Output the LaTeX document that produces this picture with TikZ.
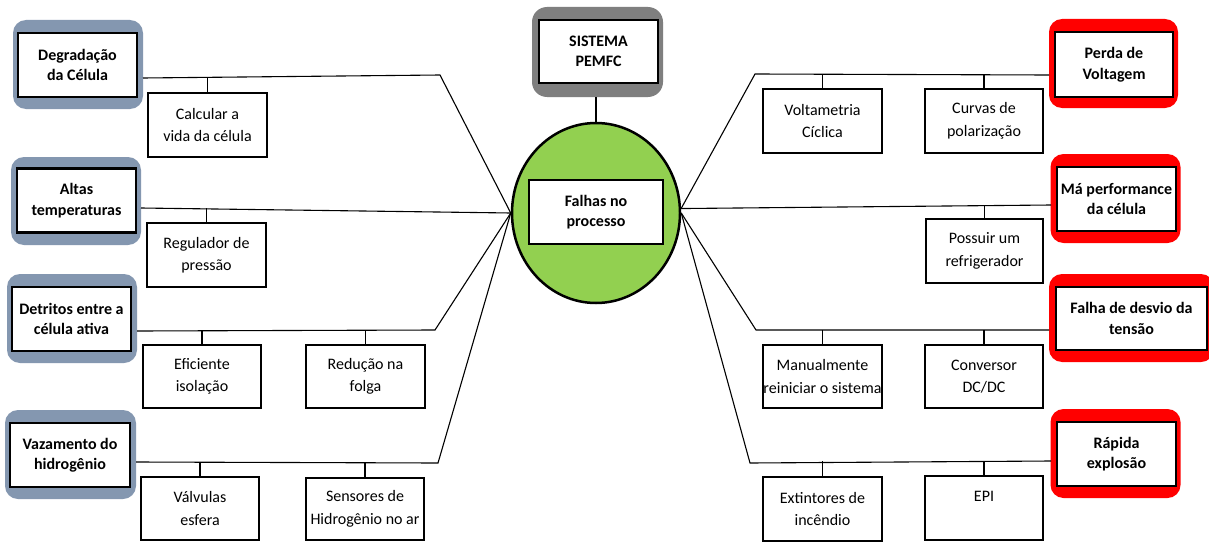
\documentclass[tikz,border=0pt]{standalone}
\usepackage{fontspec}
\setmainfont{Carlito}
\usetikzlibrary{shapes.geometric}
\definecolor{bluegray}{RGB}{132,151,176}
\definecolor{redc}{RGB}{255,0,0}
\definecolor{grayc}{RGB}{127,127,127}
\definecolor{greenc}{RGB}{146,208,80}
\begin{document}
\begin{tikzpicture}[x=1pt,y=-1pt,
  frameB/.style={draw=none, fill=bluegray, rounded corners=13pt, minimum width=130pt, minimum height=89pt, inner sep=0pt},
  frameR/.style={frameB, fill=redc},
  head/.style={draw=black, line width=2.2pt, fill=white, minimum width=119pt, minimum height=64pt, inner sep=0pt, align=center, font=\bfseries\fontsize{16}{20.5}\selectfont},
  item/.style={draw=black, line width=1.5pt, fill=white, minimum width=119pt, minimum height=64pt, inner sep=0pt, align=center, font=\fontsize{16}{22.5}\selectfont},
  link/.style={draw=black, line width=1.1pt}
]
\useasboundingbox (0,0) rectangle (1209,543);
\fill[white] (0,0) rectangle (1209,543);

% central
\node[frameB, fill=grayc, rounded corners=15pt, minimum width=131pt, minimum height=90pt] (sisO) at (597.5,52) {};
\node[head, minimum height=63pt] (sis) at (598.5,51.5) {SISTEMA\\PEMFC};
\node[ellipse, draw=black, line width=2.5pt, fill=greenc, minimum width=168pt, minimum height=180pt, inner sep=0pt] (ell) at (596,213) {};
\node[head, line width=1.6pt, minimum width=134pt] (fal) at (596,212) {Falhas no\\processo};
\draw[link] (ell.north) -- (ell.north |- sisO.south);

% left heads
\node[frameB] (degO) at (78,64.5) {};
\node[head] (deg) at (77.5,65) {Degradação\\da Célula};
\node[frameB, minimum height=88pt] (altO) at (76,201) {};
\node[head] (alt) at (76.5,200.5) {Altas\\temperaturas};
\node[frameB] (detO) at (72,318.5) {};
\node[head] (det) at (71.5,319) {Detritos entre a\\célula ativa};
\node[frameB, minimum width=131pt] (vazO) at (70.5,454.5) {};
\node[head, minimum width=120pt] (vaz) at (70,455) {Vazamento do\\hidrogênio};

% right heads
\node[frameR, minimum width=129pt] (perO) at (1113.5,63.5) {};
\node[head, minimum width=118pt, minimum height=65pt] (per) at (1114,64.5) {Perda de\\Voltagem};
\node[frameR] (maO) at (1115.5,198.5) {};
\node[head] (ma) at (1116.5,199) {Má performance\\da célula};
\node[frameR, minimum width=165pt, minimum height=88pt] (fdO) at (1131.5,318) {};
\node[head, minimum width=151pt, minimum height=63pt] (fd) at (1131.5,318.5) {Falha de desvio da\\tensão};
\node[frameR] (rapO) at (1115.5,453.5) {};
\node[head] (rap) at (1116.5,454) {Rápida\\explosão};

% items
\node[item] (calc) at (207.5,125) {Calcular a\\vida da célula};
\node[item] (reg) at (206.5,255) {Regulador de\\pressão};
\node[item, minimum width=118pt, minimum height=63pt] (efi) at (202,376.5) {Eficiente\\isolação};
\node[item, minimum height=63pt] (red) at (365.5,376.5) {Redução na\\folga};
\node[item, minimum width=118pt, minimum height=63pt] (val) at (200,508.5) {Válvulas\\esfera};
\node[item, minimum width=118pt, minimum height=62pt] (sen) at (365,509) {Sensores de\\Hidrogênio no ar};
\node[item] (volt) at (822.5,121) {Voltametria\\Cíclica};
\node[item, minimum width=118pt] (curv) at (984,121) {Curvas de\\polarização};
\node[item, minimum width=117pt] (poss) at (984.5,251) {Possuir um\\refrigerador};
\node[item, minimum height=63pt] (man) at (822.5,376.5) {Manualmente\\reiniciar o sistema};
\node[item, minimum width=118pt, minimum height=63pt] (conv) at (984,376.5) {Conversor\\DC/DC};
\node[item] (ext) at (822.5,509) {Extintores de\\incêndio};
\node[item, minimum width=118pt] (epi) at (984,508) {EPI\\\mbox{}};

% branch coordinates
\coordinate (degA) at (143,78);
\coordinate (degB) at (440,75);
\coordinate (altA) at (141,208);
\coordinate (detA) at (137,331);
\coordinate (detB) at (435,330);
\coordinate (vazA) at (136,462);
\coordinate (vazB) at (438,463);
\coordinate (perA) at (1049,75);
\coordinate (perB) at (755,74);
\coordinate (maA) at (1051,205);
\coordinate (fdA) at (1049,330);
\coordinate (fdB) at (756,330);
\coordinate (rapA) at (1051,461);
\coordinate (rapB) at (750,463);

% main branches
\draw[link] (degA) -- (degB) -- (ell.west);
\draw[link] (altA) -- (ell.west);
\draw[link] (detA) -- (detB) -- (ell.west);
\draw[link] (vazA) -- (vazB) -- (ell.west);
\draw[link] (perA) -- (perB) -- (ell.3);
\draw[link] (maA) -- (ell.3);
\draw[link] (fdA) -- (fdB) -- (ell.east);
\draw[link] (rapA) -- (rapB) -- (ell.east);

% stems
\draw[link] (calc.north) -- (calc.north |- degA);
\draw[link] (reg.north) -- (reg.north |- altA);
\draw[link] (efi.north) -- (efi.north |- detA);
\draw[link] (red.north) -- (red.north |- detA);
\draw[link] (val.north) -- (val.north |- vazA);
\draw[link] (sen.north) -- (sen.north |- vazA);
\draw[link] (volt.north) -- (volt.north |- perA);
\draw[link] (curv.north) -- (curv.north |- perA);
\draw[link] (poss.north) -- (poss.north |- maA);
\draw[link] (man.north) -- (man.north |- fdA);
\draw[link] (conv.north) -- (conv.north |- fdA);
\draw[link] (ext.north) -- (ext.north |- rapA);
\draw[link] (epi.north) -- (epi.north |- rapA);
\end{tikzpicture}
\end{document}
